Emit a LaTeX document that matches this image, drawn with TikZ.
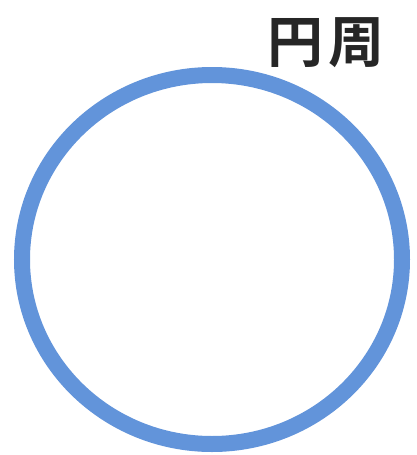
\documentclass[tikz,border=0pt]{standalone}
\usepackage{fontspec}
\newfontfamily\cjk{Noto Sans CJK JP Bold}
\definecolor{ringblue}{RGB}{98,148,218}
\begin{document}
\begin{tikzpicture}[x=1pt,y=-1pt,
  ring/.style={draw=ringblue,line width=16pt},
  label/.style={font=\cjk\fontsize{56}{60}\selectfont,text=black!85,inner sep=0pt}]
\useasboundingbox (0,0) rectangle (416,455);
\coordinate (c) at (212,259.5);
\draw[ring] (c) ellipse [x radius=190, y radius=184.5];
\node[label] (title) at (326,43) {円\hspace{6pt}周};
\end{tikzpicture}
\end{document}
